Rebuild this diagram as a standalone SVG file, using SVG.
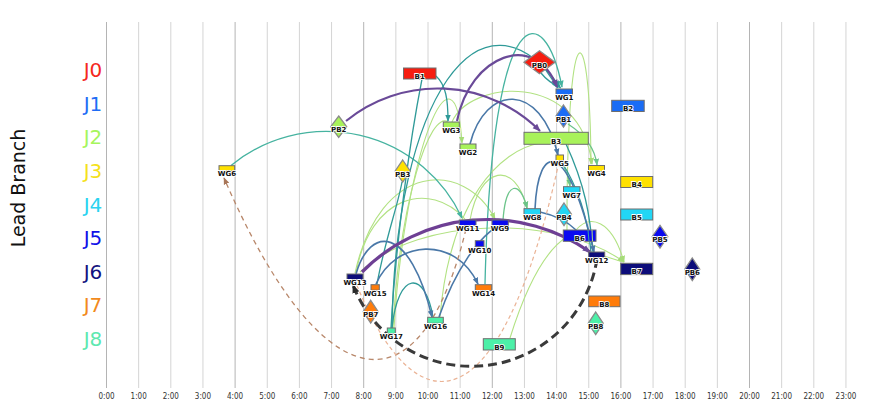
<svg xmlns="http://www.w3.org/2000/svg" width="879" height="418" viewBox="0 0 879 418">
<style>
.grid{stroke:#d4d4d4;stroke-width:1}
.grid.major{stroke:#b4b4b4}
.tick{font-family:"DejaVu Sans Condensed","DejaVu Sans",sans-serif;font-size:8px;fill:#333;text-anchor:middle}
.row{font-family:"DejaVu Sans",sans-serif;font-size:20px;text-anchor:middle}
.axis{font-family:"DejaVu Sans",sans-serif;font-size:19px;fill:#111;text-anchor:middle}
.lbl{font-family:"DejaVu Sans",sans-serif;font-weight:bold;font-size:7px;fill:#111;stroke:#fff;stroke-width:1.6;paint-order:stroke;text-anchor:middle}
.n{stroke:#6e6e6e;stroke-width:1}
.d{stroke:#8a8a8a;stroke-width:1.3}
.e{fill:none;stroke-width:1.3}
.purple{stroke:#6a4a98;stroke-width:2.2}
.purple3{stroke:#6e3f94;stroke-width:3.2}
.teal{stroke:#2f9a98}
.teal2{stroke:#46b3a0}
.steel{stroke:#4a78a8;stroke-width:1.6}
.green{stroke:#6cc48a}
.lgreen{stroke:#b2e283;stroke-width:1.1}
.black{stroke:#3a3a3a;stroke-width:3;stroke-dasharray:9 5}
.brown{stroke:#b8876a;stroke-width:1.3;stroke-dasharray:5 4}
.tan{stroke:#eab395;stroke-width:1.2;stroke-dasharray:4 3}
.c0{fill:#f61d10}.c1{fill:#1a6cf5}.c2{fill:#a8f25a}.c3{fill:#ffe100}.c4{fill:#22d6f5}
.c5{fill:#0a0af0}.c6{fill:#0d0d7a}.c7{fill:#ff7c0a}.c8{fill:#4cf0a8}
</style>
<defs>
<marker id="m-purple" viewBox="0 0 10 10" refX="9" refY="5" markerWidth="8" markerHeight="8" markerUnits="userSpaceOnUse" orient="auto"><path d="M0,1 L10,5 L0,9 z" fill="#6a4a98"/></marker>
<marker id="m-teal" viewBox="0 0 10 10" refX="9" refY="5" markerWidth="7" markerHeight="7" markerUnits="userSpaceOnUse" orient="auto"><path d="M0,1 L10,5 L0,9 z" fill="#2f9a98"/></marker>
<marker id="m-teal2" viewBox="0 0 10 10" refX="9" refY="5" markerWidth="7" markerHeight="7" markerUnits="userSpaceOnUse" orient="auto"><path d="M0,1 L10,5 L0,9 z" fill="#46b3a0"/></marker>
<marker id="m-steel" viewBox="0 0 10 10" refX="9" refY="5" markerWidth="7" markerHeight="7" markerUnits="userSpaceOnUse" orient="auto"><path d="M0,1 L10,5 L0,9 z" fill="#4a78a8"/></marker>
<marker id="m-green" viewBox="0 0 10 10" refX="9" refY="5" markerWidth="7" markerHeight="7" markerUnits="userSpaceOnUse" orient="auto"><path d="M0,1 L10,5 L0,9 z" fill="#6cc48a"/></marker>
<marker id="m-lgreen" viewBox="0 0 10 10" refX="9" refY="5" markerWidth="7" markerHeight="7" markerUnits="userSpaceOnUse" orient="auto"><path d="M0,1 L10,5 L0,9 z" fill="#a6dc78"/></marker>
<marker id="m-black" viewBox="0 0 10 10" refX="9" refY="5" markerWidth="9" markerHeight="9" markerUnits="userSpaceOnUse" orient="auto"><path d="M0,1 L10,5 L0,9 z" fill="#2a2a2a"/></marker>
<marker id="m-brown" viewBox="0 0 10 10" refX="9" refY="5" markerWidth="7" markerHeight="7" markerUnits="userSpaceOnUse" orient="auto"><path d="M0,1 L10,5 L0,9 z" fill="#a87658"/></marker>
</defs>
<rect width="879" height="418" fill="#ffffff"/>
<g id="grid">
<line class="grid major" x1="106.5" y1="22" x2="106.5" y2="388"/>
<line class="grid" x1="138.65" y1="22" x2="138.65" y2="388"/>
<line class="grid" x1="170.8" y1="22" x2="170.8" y2="388"/>
<line class="grid" x1="202.95" y1="22" x2="202.95" y2="388"/>
<line class="grid major" x1="235.1" y1="22" x2="235.1" y2="388"/>
<line class="grid" x1="267.25" y1="22" x2="267.25" y2="388"/>
<line class="grid" x1="299.4" y1="22" x2="299.4" y2="388"/>
<line class="grid" x1="331.55" y1="22" x2="331.55" y2="388"/>
<line class="grid major" x1="363.7" y1="22" x2="363.7" y2="388"/>
<line class="grid" x1="395.85" y1="22" x2="395.85" y2="388"/>
<line class="grid" x1="428" y1="22" x2="428" y2="388"/>
<line class="grid" x1="460.15" y1="22" x2="460.15" y2="388"/>
<line class="grid major" x1="492.3" y1="22" x2="492.3" y2="388"/>
<line class="grid" x1="524.45" y1="22" x2="524.45" y2="388"/>
<line class="grid" x1="556.6" y1="22" x2="556.6" y2="388"/>
<line class="grid" x1="588.75" y1="22" x2="588.75" y2="388"/>
<line class="grid major" x1="620.9" y1="22" x2="620.9" y2="388"/>
<line class="grid" x1="653.05" y1="22" x2="653.05" y2="388"/>
<line class="grid" x1="685.2" y1="22" x2="685.2" y2="388"/>
<line class="grid" x1="717.35" y1="22" x2="717.35" y2="388"/>
<line class="grid major" x1="749.5" y1="22" x2="749.5" y2="388"/>
<line class="grid" x1="781.65" y1="22" x2="781.65" y2="388"/>
<line class="grid" x1="813.8" y1="22" x2="813.8" y2="388"/>
<line class="grid" x1="845.95" y1="22" x2="845.95" y2="388"/>
</g>
<g id="axis-labels">
<text class="tick" x="106.5" y="399">0:00</text>
<text class="tick" x="138.65" y="399">1:00</text>
<text class="tick" x="170.8" y="399">2:00</text>
<text class="tick" x="202.95" y="399">3:00</text>
<text class="tick" x="235.1" y="399">4:00</text>
<text class="tick" x="267.25" y="399">5:00</text>
<text class="tick" x="299.4" y="399">6:00</text>
<text class="tick" x="331.55" y="399">7:00</text>
<text class="tick" x="363.7" y="399">8:00</text>
<text class="tick" x="395.85" y="399">9:00</text>
<text class="tick" x="428" y="399">10:00</text>
<text class="tick" x="460.15" y="399">11:00</text>
<text class="tick" x="492.3" y="399">12:00</text>
<text class="tick" x="524.45" y="399">13:00</text>
<text class="tick" x="556.6" y="399">14:00</text>
<text class="tick" x="588.75" y="399">15:00</text>
<text class="tick" x="620.9" y="399">16:00</text>
<text class="tick" x="653.05" y="399">17:00</text>
<text class="tick" x="685.2" y="399">18:00</text>
<text class="tick" x="717.35" y="399">19:00</text>
<text class="tick" x="749.5" y="399">20:00</text>
<text class="tick" x="781.65" y="399">21:00</text>
<text class="tick" x="813.8" y="399">22:00</text>
<text class="tick" x="845.95" y="399">23:00</text>
<text class="axis" transform="translate(25,188) rotate(-90)">Lead Branch</text>
<text class="row" x="93" y="77" fill="#f5281e">J0</text>
<text class="row" x="93" y="110.5" fill="#1f6df5">J1</text>
<text class="row" x="93" y="144" fill="#a6f55c">J2</text>
<text class="row" x="93" y="178" fill="#f5e11a">J3</text>
<text class="row" x="93" y="211.5" fill="#2bd3f0">J4</text>
<text class="row" x="93" y="245" fill="#1111e8">J5</text>
<text class="row" x="93" y="278.5" fill="#131380">J6</text>
<text class="row" x="93" y="312" fill="#f28a1c">J7</text>
<text class="row" x="93" y="346" fill="#5ee8b0">J8</text>
</g>
<g id="connectors">
<path class="e lgreen" d="M393,328 C400,200 430,110 448,122"/>
<path class="e lgreen" d="M394,328 C405,150 455,30 462,143" marker-end="url(#m-lgreen)"/>
<path class="e lgreen" d="M440,317 C450,200 500,150 540,143"/>
<path class="e lgreen" d="M452,122 C470,80 580,70 592,164" marker-end="url(#m-lgreen)"/>
<path class="e lgreen" d="M567,240 C566,5 590,5 591,164" marker-end="url(#m-lgreen)"/>
<path class="e lgreen" d="M355,273 C380,160 465,160 495,219" marker-end="url(#m-lgreen)"/>
<path class="e lgreen" d="M356,273 C370,195 430,180 465,219"/>
<path class="e lgreen" d="M360,272 C420,215 560,215 624,262" marker-end="url(#m-lgreen)"/>
<path class="e lgreen" d="M470,220 C480,165 515,160 527,208" marker-end="url(#m-lgreen)"/>
<path class="e lgreen" d="M510,338 C525,290 545,250 568,236"/>
<path class="e lgreen" d="M575,231 C590,213 612,220 624,262" marker-end="url(#m-lgreen)"/>
<path class="e lgreen" d="M604,256 L623,262"/>
<path class="e green" d="M503,220 C506,180 520,180 527,208" marker-end="url(#m-green)"/>
<path class="e green" d="M561,161 C566,170 569,178 570,186" marker-end="url(#m-green)"/>
<path class="e green" d="M568,124 C585,135 595,148 597,165" marker-end="url(#m-green)"/>
<path class="e teal2" d="M231,165.5 A150,150 0 0 1 462,218" marker-end="url(#m-teal2)"/>
<path class="e teal" d="M436,76 C446,85 448,100 448,121" marker-end="url(#m-teal)"/>
<path class="e teal" d="M545,69 L558,88" marker-end="url(#m-teal)"/>
<path class="e teal" d="M541,73 Q548,82 561,88"/>
<path class="e teal" d="M392,328 C395,100 480,-25 560,87" marker-end="url(#m-teal)"/>
<path class="e teal2" d="M485,284 C492,-10 545,0 562,87" marker-end="url(#m-teal2)"/>
<path class="e teal" d="M391,328 C396,240 410,140 422,79"/>
<path class="e teal" d="M377,284 C385,240 398,205 402,182"/>
<path class="e teal" d="M392,328 C398,270 425,270 433,317"/>
<path class="e teal" d="M566,144 C585,185 590,215 593,252"/>
<path class="e teal" d="M561,161 C580,190 588,220 591,252"/>
<path class="e steel" d="M376,284 C395,240 455,235 478,284" marker-end="url(#m-steel)"/>
<path class="e steel" d="M356,274 C370,225 410,225 432,317" marker-end="url(#m-steel)"/>
<path class="e steel" d="M439,317 C455,270 480,235 500,225"/>
<path class="e steel" d="M470,144 C485,85 540,80 558,155" marker-end="url(#m-steel)"/>
<path class="e steel" d="M535,209 C538,140 568,140 594,252" marker-end="url(#m-steel)"/>
<path class="e steel" d="M540,212 C558,216 568,222 576,230"/>
<path class="e purple" d="M346,121 A145,145 0 0 1 540,131" marker-end="url(#m-purple)"/>
<path class="e purple" d="M457,121 C470,55 535,30 557,87" marker-end="url(#m-purple)"/>
<path class="e purple3" d="M362,272 A177,177 0 0 1 590,252" marker-end="url(#m-purple)"/>
<path class="e brown" d="M466,229 C420,420 320,400 224,178" marker-end="url(#m-brown)"/>
<path class="e tan" d="M559,162 C500,430 415,430 356,283"/>
<path class="e black" d="M597,259 A127,127 0 0 1 353,285" marker-end="url(#m-black)"/>
</g>
<g id="B1"><rect class="n c0" x="403.5" y="68" width="32.5" height="11"/><text class="lbl" x="419.7" y="78.5">B1</text></g>
<g id="PB0"><path class="d c0" d="M539.5,50.8 L555,62.3 L539.5,73.8 L524,62.3 z"/><text class="lbl" x="539.5" y="68">PB0</text></g>
<g id="WG1"><rect class="n c1" x="556" y="89" width="16.5" height="6"/><text class="lbl" x="564.3" y="100">WG1</text></g>
<g id="B2"><rect class="n c1" x="611.7" y="100.3" width="32.5" height="11.2"/><text class="lbl" x="628" y="111">B2</text></g>
<g id="PB1"><path class="d c1" d="M563.5,105 L571,116 L563.5,127 L556,116 z"/><text class="lbl" x="563.5" y="121.5">PB1</text></g>
<g id="PB2"><path class="d c2" d="M338.7,116 L346.7,126.7 L338.7,137.4 L330.7,126.7 z"/><text class="lbl" x="338.7" y="132.4">PB2</text></g>
<g id="WG3"><rect class="n c2" x="443.3" y="122" width="16" height="6"/><text class="lbl" x="451.3" y="133.3">WG3</text></g>
<g id="B3"><rect class="n c2" x="524" y="132.3" width="64.3" height="12"/><text class="lbl" x="556" y="143.8">B3</text></g>
<g id="WG2"><rect class="n c2" x="460" y="144" width="16" height="6"/><text class="lbl" x="468" y="155">WG2</text></g>
<g id="WG5"><rect class="n c3" x="556" y="155" width="7.5" height="5.5"/><text class="lbl" x="559.7" y="165.5">WG5</text></g>
<g id="WG4"><rect class="n c3" x="588.5" y="165.5" width="16" height="6"/><text class="lbl" x="596.5" y="176.3">WG4</text></g>
<g id="B4"><rect class="n c3" x="620.7" y="176.5" width="32" height="11"/><text class="lbl" x="636.7" y="187">B4</text></g>
<g id="WG6"><rect class="n c3" x="219" y="165.7" width="15.7" height="5.5"/><text class="lbl" x="227" y="176.3">WG6</text></g>
<g id="PB3"><path class="d c3" d="M402.7,160 L410.2,171 L402.7,182 L395.2,171 z"/><text class="lbl" x="402.7" y="176.5">PB3</text></g>
<g id="WG7"><rect class="n c4" x="563.5" y="186.7" width="16.5" height="6"/><text class="lbl" x="571.7" y="198">WG7</text></g>
<g id="B5"><rect class="n c4" x="620.7" y="209" width="32" height="11"/><text class="lbl" x="636.7" y="219.5">B5</text></g>
<g id="WG8"><rect class="n c4" x="524" y="208.7" width="16.5" height="6"/><text class="lbl" x="532.3" y="219.8">WG8</text></g>
<g id="PB4"><path class="d c4" d="M564,203 L571.5,214.3 L564,225.6 L556.5,214.3 z"/><text class="lbl" x="564" y="220">PB4</text></g>
<g id="WG11"><rect class="n c5" x="459.3" y="220" width="16.7" height="5.5"/><text class="lbl" x="467.7" y="230.8">WG11</text></g>
<g id="WG9"><rect class="n c5" x="492" y="220" width="16.3" height="5.5"/><text class="lbl" x="500" y="230.8">WG9</text></g>
<g id="B6"><rect class="n c5" x="563.3" y="230" width="32.7" height="11.3"/><line x1="588" y1="230" x2="589" y2="241.3" stroke="#3aa0a0" stroke-width="1"/><line x1="592" y1="230" x2="592.5" y2="241.3" stroke="#b2e283" stroke-width="1"/><text class="lbl" x="579.7" y="240.9">B6</text></g>
<g id="PB5"><path class="d c5" d="M660,225.3 L667.8,236.7 L660,248 L652.2,236.7 z"/><text class="lbl" x="660" y="242.2">PB5</text></g>
<g id="WG10"><rect class="n c5" x="475.3" y="240.7" width="8.7" height="6"/><text class="lbl" x="479.7" y="252.5">WG10</text></g>
<g id="WG12"><rect class="n c6" x="588.7" y="252" width="16" height="5.5"/><text class="lbl" x="596.7" y="263">WG12</text></g>
<g id="B7"><rect class="n c6" x="620.7" y="263.3" width="32" height="11.3"/><text class="lbl" x="636.7" y="274">B7</text></g>
<g id="PB6"><path class="d c6" d="M692.3,258 L699.8,269.3 L692.3,280.6 L684.8,269.3 z"/><text class="lbl" x="692.3" y="275">PB6</text></g>
<g id="WG13"><rect class="n c6" x="347" y="274" width="16" height="6"/><text class="lbl" x="355" y="285.3">WG13</text></g>
<g id="WG15"><rect class="n c7" x="371" y="284.7" width="8.3" height="5.5"/><text class="lbl" x="375" y="295.8">WG15</text></g>
<g id="WG14"><rect class="n c7" x="475.3" y="284.7" width="16.4" height="6"/><text class="lbl" x="483.5" y="295.8">WG14</text></g>
<g id="PB7"><path class="d c7" d="M370.7,300.3 L378.2,311.7 L370.7,323 L363.2,311.7 z"/><text class="lbl" x="370.7" y="317.3">PB7</text></g>
<g id="B8"><rect class="n c7" x="588.7" y="296" width="31.3" height="10.7"/><text class="lbl" x="604.3" y="306.6">B8</text></g>
<g id="PB8"><path class="d c8" d="M595.7,312 L603.2,323.3 L595.7,334.6 L588.2,323.3 z"/><text class="lbl" x="595.7" y="329">PB8</text></g>
<g id="WG16"><rect class="n c8" x="427.7" y="317.3" width="15.6" height="6"/><text class="lbl" x="435.5" y="328.5">WG16</text></g>
<g id="WG17"><rect class="n c8" x="387.3" y="328" width="8" height="5.5"/><text class="lbl" x="391.3" y="339.2">WG17</text></g>
<g id="B9"><rect class="n c8" x="483.3" y="338.7" width="32" height="11.3"/><text class="lbl" x="499.3" y="349.7">B9</text></g>
</svg>
